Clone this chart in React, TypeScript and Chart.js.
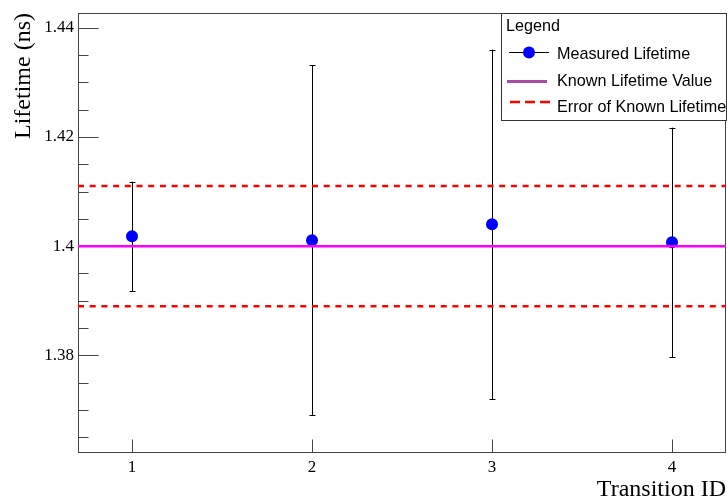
import React, { useEffect, useRef } from "react";
import { Chart, registerables } from "chart.js";

Chart.register(...registerables);

const transitionIds = [1, 2, 3, 4];
const measuredLifetimes = [1.4018, 1.4011, 1.404, 1.4007];
const lifetimeErrors = [0.01, 0.032, 0.032, 0.021];
const knownLifetime = 1.4;
const knownLifetimeError = 0.011;
const xTickValues = [1, 2, 3, 4];
const yTickValues = [1.38, 1.4, 1.42, 1.44];
const yMinorStep = 0.005;
const xRange = [0.7, 4.3];
const yRange = [1.3623, 1.4427];
const legendLabels = ["Measured Lifetime", "Known Lifetime Value", "Error of Known Lifetime"];

const SERIF = "'Liberation Serif', 'Times New Roman', serif";
const SANS = "'Liberation Sans', Arial, Helvetica, sans-serif";
const FRAME = "#444";

Chart.defaults.font.family = SERIF;

const decorPlugin = {
  id: "rootDecor",
  beforeDatasetsDraw(chart: any) {
    const ctx = chart.ctx;
    const a = chart.chartArea;
    const xs = chart.scales.x;
    const ys = chart.scales.y;
    ctx.save();
    // frame
    ctx.strokeStyle = FRAME;
    ctx.lineWidth = 1;
    const L = Math.round(a.left) + 0.5;
    const R = Math.round(a.right) - 0.5;
    const T = Math.round(a.top) + 0.5;
    const B = Math.round(a.bottom) + 0.5;
    ctx.strokeRect(L, T, R - L, B - T);
    // y ticks
    ctx.beginPath();
    for (let v = 1.365; v <= yRange[1] + 1e-9; v += yMinorStep) {
      const vv = Math.round(v * 1000) / 1000;
      if (vv < yRange[0]) continue;
      const isMajor = yTickValues.some((t) => Math.abs(t - vv) < 1e-6);
      const py = Math.round(ys.getPixelForValue(vv)) + 0.5;
      ctx.moveTo(L, py);
      ctx.lineTo(L + (isMajor ? 20 : 10), py);
    }
    // x ticks
    xTickValues.forEach((v) => {
      const px = Math.round(xs.getPixelForValue(v)) + 0.5;
      ctx.moveTo(px, B);
      ctx.lineTo(px, B - 13);
    });
    ctx.stroke();

    // error bars
    ctx.strokeStyle = "#000";
    ctx.lineWidth = 1;
    transitionIds.forEach((id, i) => {
      const px = Math.round(xs.getPixelForValue(id)) + 0.5;
      const top = ys.getPixelForValue(measuredLifetimes[i] + lifetimeErrors[i]);
      const bot = ys.getPixelForValue(measuredLifetimes[i] - lifetimeErrors[i]);
      ctx.beginPath();
      ctx.moveTo(px, top);
      ctx.lineTo(px, bot);
      ctx.moveTo(px - 3, Math.round(top) + 0.5);
      ctx.lineTo(px + 3, Math.round(top) + 0.5);
      ctx.moveTo(px - 3, Math.round(bot) + 0.5);
      ctx.lineTo(px + 3, Math.round(bot) + 0.5);
      ctx.stroke();
    });
    ctx.restore();
  },
  afterDraw(chart: any) {
    const ctx = chart.ctx;
    ctx.save();
    // axis titles
    ctx.fillStyle = "#000";
    ctx.font = `24px ${SERIF}`;
    ctx.textAlign = "right";
    ctx.textBaseline = "alphabetic";
    ctx.fillText("Transition ID", 726, 496);
    ctx.save();
    ctx.translate(30, 13);
    ctx.rotate(-Math.PI / 2);
    ctx.textAlign = "right";
    ctx.fillText("Lifetime (ns)", 0, 0);
    ctx.restore();

    // legend box
    const bx = 501.5, by = 13.5, bw = 225, bh = 107;
    ctx.fillStyle = "#fff";
    ctx.fillRect(bx, by, bw, bh);
    ctx.strokeStyle = "#333";
    ctx.lineWidth = 1;
    ctx.strokeRect(bx, by, bw, bh);
    ctx.fillStyle = "#000";
    ctx.font = `16.2px ${SANS}`;
    ctx.textAlign = "left";
    ctx.fillText("Legend", 506, 31);
    // entry 1
    ctx.strokeStyle = "#000";
    ctx.lineWidth = 1;
    ctx.beginPath();
    ctx.moveTo(509, 52.5);
    ctx.lineTo(549, 52.5);
    ctx.stroke();
    ctx.fillStyle = "#0000ff";
    ctx.beginPath();
    ctx.arc(529, 52.5, 6, 0, Math.PI * 2);
    ctx.fill();
    ctx.fillStyle = "#000";
    ctx.fillText(legendLabels[0], 557, 59);
    // entry 2
    ctx.strokeStyle = "#a64ca6";
    ctx.lineWidth = 3;
    ctx.beginPath();
    ctx.moveTo(507, 81.5);
    ctx.lineTo(547, 81.5);
    ctx.stroke();
    ctx.fillText(legendLabels[1], 557, 86);
    // entry 3
    ctx.strokeStyle = "#ff0000";
    ctx.lineWidth = 2.5;
    ctx.setLineDash([10, 5]);
    ctx.beginPath();
    ctx.moveTo(510, 102);
    ctx.lineTo(550, 102);
    ctx.stroke();
    ctx.setLineDash([]);
    ctx.fillText(legendLabels[2], 557, 112);
    ctx.restore();
  },
};

export default function App() {
  const ref = useRef<HTMLCanvasElement | null>(null);
  useEffect(() => {
    if (!ref.current) return;
    const flat = (y: number) => [
      { x: xRange[0], y },
      { x: xRange[1], y },
    ];
    const chart = new Chart(ref.current, {
      type: "scatter",
      data: {
        datasets: [
          {
            label: legendLabels[0],
            data: transitionIds.map((x, i) => ({ x, y: measuredLifetimes[i] })),
            backgroundColor: "#0000ff",
            borderWidth: 0,
            pointRadius: 6,
            showLine: false,
            order: 1,
          },
          {
            label: legendLabels[1],
            data: flat(knownLifetime),
            borderColor: "#ff00ff",
            borderWidth: 2.5,
            pointRadius: 0,
            showLine: true,
            order: 0,
          },
          {
            label: legendLabels[2],
            data: flat(knownLifetime + knownLifetimeError),
            borderColor: "#ff0000",
            borderWidth: 2.5,
            borderDash: [6, 5.7],
            pointRadius: 0,
            showLine: true,
            order: 0,
          },
          {
            label: "lower",
            data: flat(knownLifetime - knownLifetimeError),
            borderColor: "#ff0000",
            borderWidth: 2.5,
            borderDash: [6, 5.7],
            pointRadius: 0,
            showLine: true,
            order: 0,
          },
        ],
      },
      options: {
        responsive: false,
        animation: false,
        devicePixelRatio: 1,
        layout: { autoPadding: false, padding: { top: 13, right: 1, left: 0, bottom: 0 } },
        plugins: { legend: { display: false }, tooltip: { enabled: false } },
        scales: {
          x: {
            type: "linear",
            min: xRange[0],
            max: xRange[1],
            grid: { display: false, drawTicks: false },
            border: { display: false },
            afterBuildTicks: (s: any) => {
              s.ticks = xTickValues.map((value) => ({ value }));
            },
            afterFit: (s: any) => {
              s.height = 46;
              s.paddingLeft = 0;
              s.paddingRight = 0;
            },
            ticks: {
              color: "#000",
              padding: 5,
              maxRotation: 0,
              font: { family: SERIF, size: 17 },
              callback: (v: any) => String(v),
            },
          },
          y: {
            type: "linear",
            min: yRange[0],
            max: yRange[1],
            grid: { display: false, drawTicks: false },
            border: { display: false },
            afterBuildTicks: (s: any) => {
              s.ticks = yTickValues.map((value) => ({ value }));
            },
            afterFit: (s: any) => {
              s.width = 78;
              s.paddingTop = 0;
              s.paddingBottom = 0;
            },
            ticks: {
              color: "#000",
              padding: 4,
              font: { family: SERIF, size: 17 },
              callback: (v: any) => String(Number(Number(v).toFixed(2))),
            },
          },
        },
      },
      plugins: [decorPlugin],
    });
    return () => chart.destroy();
  }, []);
  return (
    <div style={{ position: "absolute", left: 0, top: 0, width: 727, height: 498, background: "#fff" }}>
      <canvas ref={ref} width={727} height={498} />
    </div>
  );
}
